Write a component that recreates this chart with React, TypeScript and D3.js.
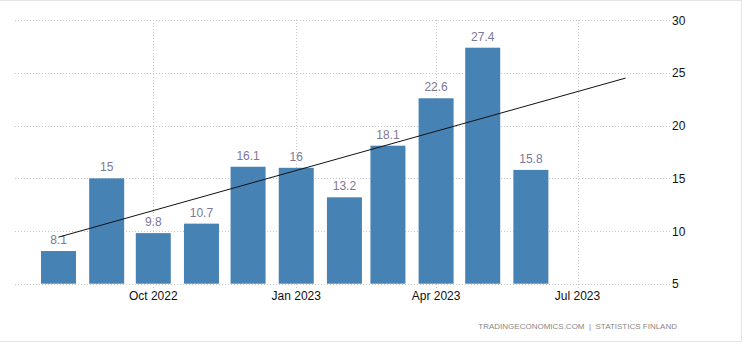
import React from "react";
import * as d3 from "d3";

const months = ["2022-08","2022-09","2022-10","2022-11","2022-12","2023-01","2023-02","2023-03","2023-04","2023-05","2023-06"];
const values = [8.1, 15, 9.8, 10.7, 16.1, 16, 13.2, 18.1, 22.6, 27.4, 15.8];
const yTicks = [5, 10, 15, 20, 25, 30];
const xTicks = ["2022-10", "2023-01", "2023-04", "2023-07"];
const trendEnd = "2023-08";
const source = "TRADINGECONOMICS.COM  |  STATISTICS FINLAND";

const W = 744, H = 353;
const parse = (s: string) => { const [y, m] = s.split("-").map(Number); return new Date(y, m - 1, 1); };
const fmt = d3.timeFormat("%b %Y");

export default function App() {
  const x = d3.scaleTime().domain([parse("2022-08"), parse("2023-07")]).range([58.5, 577.5]);
  const y = d3.scaleLinear().domain([5, 30]).range([283.7, 20.3]);
  const plotL = 15, plotR = 670;
  const barW = 35;

  // linear regression over bar index
  const n = values.length;
  const xs = d3.range(n);
  const mx = d3.mean(xs)!, my = d3.mean(values)!;
  const slope = d3.sum(xs, (i) => (i - mx) * (values[i] - my)) / d3.sum(xs, (i) => (i - mx) ** 2);
  const icpt = my - slope * mx;
  const endIdx = 12;
  const line = d3.line<[Date, number]>().x((d) => x(d[0])).y((d) => y(d[1]));
  const trend: [Date, number][] = [[parse(months[0]), icpt], [parse(trendEnd), icpt + slope * endIdx]];

  return (
    <svg width={W} height={H} style={{ position: "absolute", left: 0, top: 0, fontFamily: "Liberation Sans, Arial, sans-serif" }}>
      <rect x={0} y={0} width={W} height={H} fill="#fff" />
      <path d={`M0,0.5H741.5V341.5H0`} fill="none" stroke="#e4e4e4" strokeWidth={1} />
      {yTicks.map((t) => (
        <g key={t}>
          <line x1={plotL} x2={plotR} y1={Math.round(y(t)) + 0.5} y2={Math.round(y(t)) + 0.5} stroke="#c8c8c8" strokeDasharray="1,2" />
          <text x={672} y={y(t) + 4.5} fontSize={12} fill="#111">{t}</text>
        </g>
      ))}
      {xTicks.map((t) => (
        <g key={t}>
          <line x1={Math.round(x(parse(t))) + 0.5} x2={Math.round(x(parse(t))) + 0.5} y1={20} y2={288} stroke="#c8c8c8" strokeDasharray="1,2" />
          <text x={x(parse(t))} y={300} fontSize={12} textAnchor="middle" fill="#111">{fmt(parse(t))}</text>
        </g>
      ))}
      {values.map((v, i) => {
        const cx = x(parse(months[i]));
        return (
          <g key={i}>
            <rect x={cx - barW / 2} y={y(v)} width={barW} height={y(5) - y(v)} fill="#4682b4" />
            <text x={cx} y={y(v) - 7} fontSize={12} textAnchor="middle" fill="#7c7799">{String(v)}</text>
          </g>
        );
      })}
      <path d={line(trend)!} fill="none" stroke="#111" strokeWidth={1} />
      <text x={677} y={329} fontSize={8} textAnchor="end" fill="#888" style={{ whiteSpace: "pre" }}>{source}</text>
    </svg>
  );
}
